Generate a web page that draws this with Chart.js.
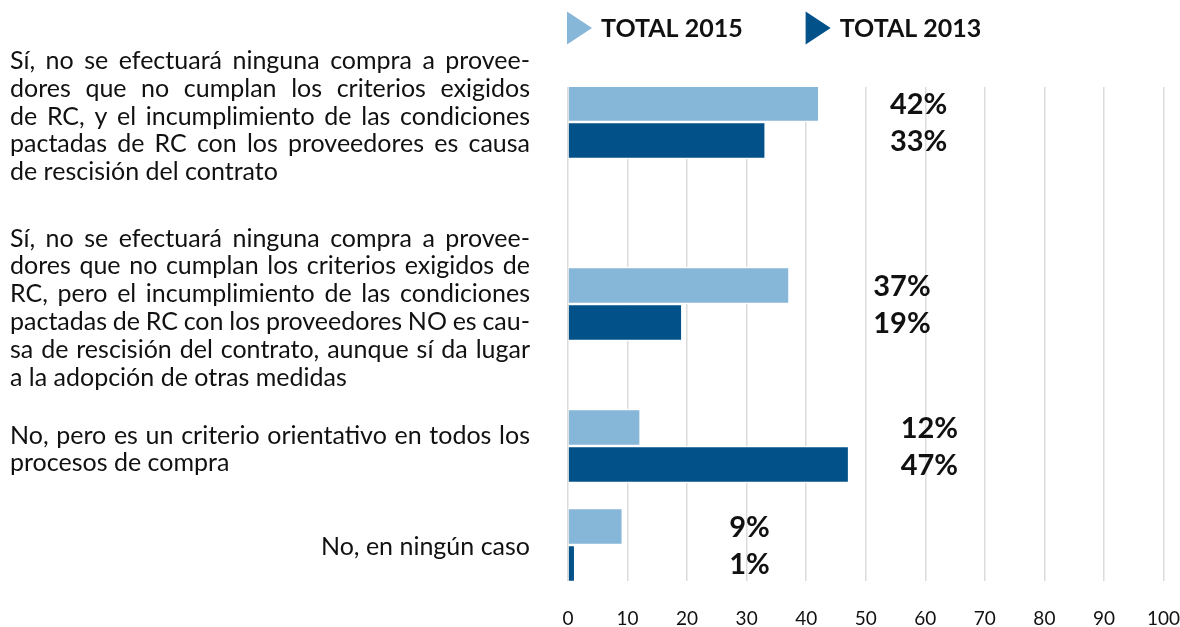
<!DOCTYPE html>
<html lang="es">
<head>
<meta charset="utf-8">
<title>Compras a proveedores y criterios de RC</title>
<script src="https://cdn.jsdelivr.net/npm/chart.js@4.4.1/dist/chart.umd.min.js"></script>
<style>
  html, body { margin: 0; padding: 0; background: #fff; }
  #wrap { width: 1180px; height: 627px; }
</style>
</head>
<body>
<div id="wrap"><canvas id="graf" width="1180" height="627"></canvas></div>
<script>
// Categorías: cada una con sus líneas tal como salen en el original (con el guión de partición).
const categorias = [
  ['Sí, no se efectuará ninguna compra a provee-',
   'dores que no cumplan los criterios exigidos',
   'de RC, y el incumplimiento de las condiciones',
   'pactadas de RC con los proveedores es causa',
   'de rescisión del contrato'],
  ['Sí, no se efectuará ninguna compra a provee-',
   'dores que no cumplan los criterios exigidos de',
   'RC, pero el incumplimiento de las condiciones',
   'pactadas de RC con los proveedores NO es cau-',
   'sa de rescisión del contrato, aunque sí da lugar',
   'a la adopción de otras medidas'],
  ['No, pero es un criterio orientativo en todos los',
   'procesos de compra'],
  ['No, en ningún caso'],
];
const series = ['TOTAL 2015', 'TOTAL 2013'];
const total2015 = [42, 37, 12, 9];
const total2013 = [33, 19, 47, 1];
const ticksX = [0, 10, 20, 30, 40, 50, 60, 70, 80, 90, 100];

// --- maquetación (no son datos) ---
const AREA = { left: 568, right: 14, top: 87, bottom: 581, alto: 627 };
const FILA = [35, 217, 359, 458];            // centro de cada grupo, px desde el borde superior del área
const TEXTO_DY = [2.5, 12, 11.5, 10];        // línea base central del texto respecto al centro del grupo
const ETIQ_X = [63.7, 60.9, 65.5, 33.9];     // donde acaba (a la derecha) el rótulo de %, en unidades del eje
const ALINEA = ['justify', 'justify', 'justify', 'right'];
const COLORES = ['#86b6d8', '#025189'];
const TXT = '#111';
const FUENTE = 'Lato';

function lineaJustificada(ctx, texto, x0, x1, y) {
  const pal = texto.split(' ');
  const w = pal.map((p) => ctx.measureText(p).width);
  const tot = w.reduce((a, b) => a + b, 0);
  const hueco = pal.length > 1 ? (x1 - x0 - tot) / (pal.length - 1) : 0;
  let x = x0;
  pal.forEach((p, i) => { ctx.fillText(p, x, y); x += w[i] + hueco; });
}

const rotulos = {
  id: 'rotulos',
  afterDatasetsDraw(chart) {
    const { ctx, chartArea, scales: { x, y } } = chart;
    ctx.save();
    ctx.fillStyle = TXT;

    // textos de categoría a la izquierda
    ctx.font = `25px ${FUENTE}`;
    ctx.textBaseline = 'alphabetic';
    const lh = 27.8, x0 = 10, x1 = 530;
    categorias.forEach((lineas, i) => {
      const cy = y.getPixelForValue(FILA[i]) + TEXTO_DY[i];
      lineas.forEach((t, k) => {
        const ly = cy + (k - (lineas.length - 1) / 2) * lh;
        if (ALINEA[i] === 'right') {
          ctx.textAlign = 'right'; ctx.fillText(t, x1, ly);
        } else if (k < lineas.length - 1) {
          ctx.textAlign = 'left'; lineaJustificada(ctx, t, x0, x1, ly);
        } else {
          ctx.textAlign = 'left'; ctx.fillText(t, x0, ly);
        }
      });
    });

    // porcentajes
    ctx.font = `bold 29px ${FUENTE}`;
    ctx.textAlign = 'right';
    ctx.textBaseline = 'middle';
    chart.data.datasets.forEach((ds, d) => {
      chart.getDatasetMeta(d).data.forEach((bar, i) => {
        ctx.fillText(ds.data[i].x + '%', x.getPixelForValue(ETIQ_X[i]), bar.y + 1);
      });
    });

    // leyenda con triángulos
    ctx.font = `bold 25px ${FUENTE}`;
    ctx.textAlign = 'left';
    let lx = chartArea.left - 1;
    const ly = 28;
    chart.data.datasets.forEach((ds) => {
      ctx.fillStyle = ds.backgroundColor;
      ctx.beginPath();
      ctx.moveTo(lx, ly - 16.5);
      ctx.lineTo(lx + 25, ly);
      ctx.lineTo(lx, ly + 16.5);
      ctx.closePath();
      ctx.fill();
      ctx.fillStyle = TXT;
      ctx.fillText(ds.label, lx + 34, ly + 1);
      lx += 34 + ctx.measureText(ds.label).width + 63;
    });
    ctx.restore();
  },
};

const barra = (label, valores, color) => ({
  label,
  data: valores.map((v, i) => ({ x: v, y: FILA[i] })),
  backgroundColor: color,
  borderColor: '#fff',
  borderWidth: { top: 1.5, bottom: 1.5, left: 0, right: 0 },
  borderSkipped: false,
  barThickness: 37,
});

new Chart(document.getElementById('graf'), {
  type: 'bar',
  data: {
    datasets: [
      barra(series[0], total2015, COLORES[0]),
      barra(series[1], total2013, COLORES[1]),
    ],
  },
  plugins: [rotulos],
  options: {
    indexAxis: 'y',
    responsive: false,
    animation: false,
    devicePixelRatio: 1,
    layout: { padding: { left: AREA.left, right: AREA.right, top: AREA.top, bottom: 0 } },
    plugins: { legend: { display: false }, tooltip: { enabled: false } },
    scales: {
      x: {
        type: 'linear', min: 0, max: 100,
        afterBuildTicks: (s) => { s.ticks = ticksX.map((v) => ({ value: v })); },
        afterFit: (s) => { s.height = AREA.alto - AREA.bottom; },
        // el hueco bajo el área va en tickLength (invisible), no en ticks.padding,
        // que Chart.js también suma a los lados y estrecha el eje
        grid: { color: '#dcdcdc', lineWidth: 1.5, drawTicks: true, tickLength: 26, tickColor: 'rgba(0,0,0,0)' },
        border: { display: false },
        ticks: { color: TXT, padding: 0, font: { family: FUENTE, size: 19 } },
      },
      y: {
        type: 'linear', display: false, reverse: true, offset: false,
        min: 0, max: AREA.bottom - AREA.top,
      },
    },
  },
});
</script>
</body>
</html>
